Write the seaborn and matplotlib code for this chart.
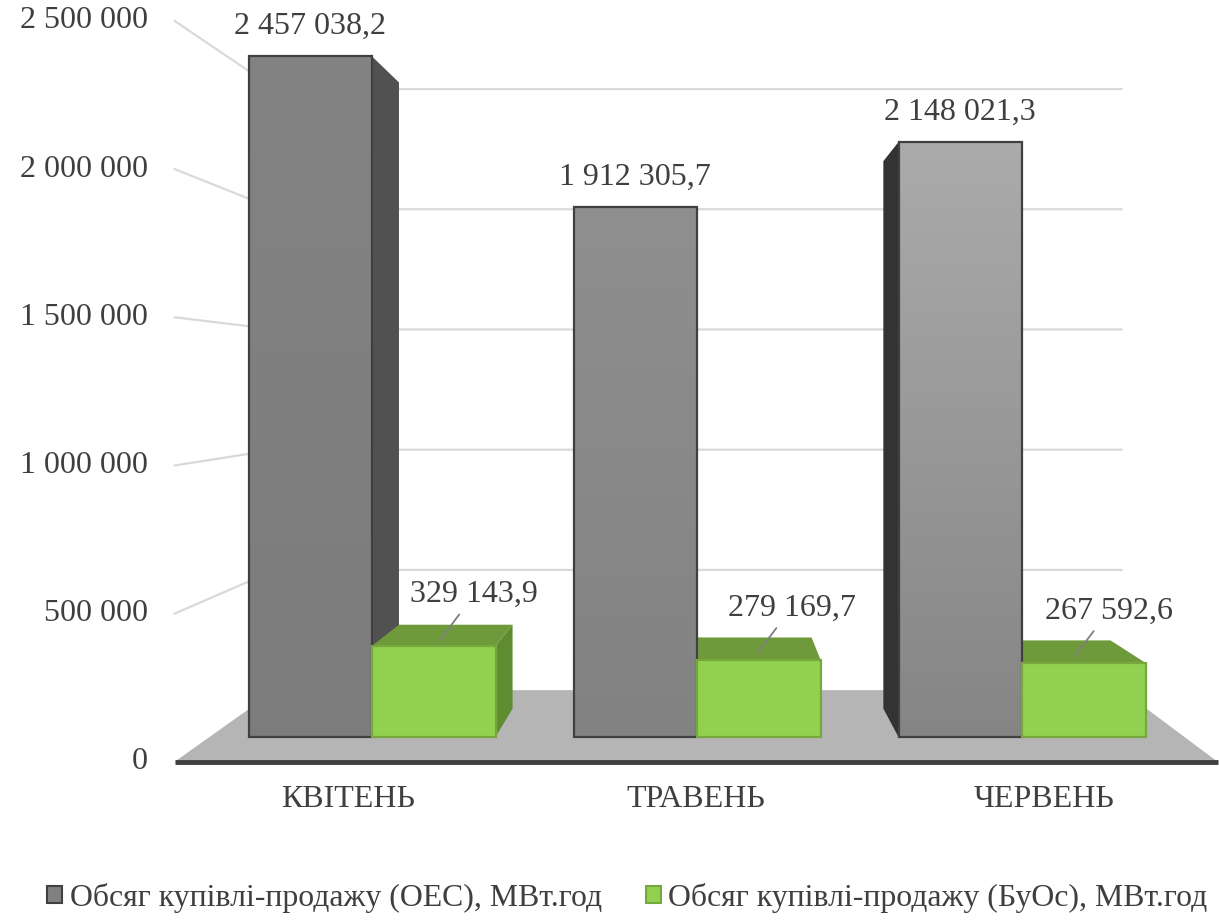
import numpy as np
import pandas as pd
import matplotlib
matplotlib.use("Agg")
import matplotlib.pyplot as plt
import seaborn as sns
from matplotlib.patches import Polygon, Patch
from matplotlib.transforms import IdentityTransform
from matplotlib.colors import LinearSegmentedColormap

# Data
months = ["КВІТЕНЬ", "ТРАВЕНЬ", "ЧЕРВЕНЬ"]
oes_volume = [2457038.2, 1912305.7, 2148021.3]
buos_volume = [329143.9, 279169.7, 267592.6]
series_names = ["Обсяг купівлі-продажу (ОЕС), МВт.год",
                "Обсяг купівлі-продажу (БуОс), МВт.год"]
y_ticks = [0, 500000, 1000000, 1500000, 2000000, 2500000]

df = pd.DataFrame({
    "month": months * 2,
    "series": [series_names[0]] * 3 + [series_names[1]] * 3,
    "volume": oes_volume + buos_volume,
})


def fmt(v, dec):
    return f"{v:,.{dec}f}".replace(",", " ").replace(".", ",")


# ---------------- LAYOUT ----------------
sns.set_theme(style="white")
plt.rcParams["font.family"] = ["Liberation Serif", "DejaVu Serif"]
TXT = "#3f3f3f"
W, H = 1219, 922
fig = plt.figure(figsize=(W / 100, H / 100), dpi=100)

# front plane of the fake 3D box (pixels)
ax_l, ax_r = 177, 1217
x0_px, dx_px = 372, 325          # category 0 position, px per category
y0_px, dy_px = 737, 277e-6       # value 0 (px from top), px per unit
ax = fig.add_axes([ax_l / W, 0, (ax_r - ax_l) / W, 1])

GRAY, GREEN = "#808080", "#92d050"
sns.barplot(data=df, x="month", y="volume", hue="series",
            palette=[GRAY, GREEN], width=0.76, errorbar=None,
            saturation=1, ax=ax)
ax.get_legend().remove()
ax.set_xlim((ax_l - x0_px) / dx_px, (ax_r - x0_px) / dx_px)
ax.set_ylim(-(H - y0_px) / dy_px, y0_px / dy_px)
ax.axis("off")

# perspective: depth k moves a point toward the vanishing point
VP = np.array([709.0, H - 382.0])
K_FRONT, K_BACK, K_BAR = -0.07, 0.132, 0.08
ID = IdentityTransform()


def proj(x, v, k):
    p = ax.transData.transform((x, v))
    return p + k * (VP - p)


def face(pts, color, z, ec="none", lw=0):
    ax.add_patch(Polygon(pts, closed=True, facecolor=color, edgecolor=ec,
                         linewidth=lw, transform=ID, zorder=z, clip_on=False))


x_lo, x_hi = -0.5, len(months) - 0.5

# floor
face([proj(x_lo, 0, K_FRONT), proj(x_hi, 0, K_FRONT),
      proj(x_hi, 0, K_BACK), proj(x_lo, 0, K_BACK)], "#b5b5b5", 0.5)
a, b = proj(x_lo, 0, K_FRONT), proj(x_hi, 0, K_FRONT)
ax.plot([a[0], b[0]], [a[1], b[1]], color="#404040", lw=3.5,
        transform=ID, zorder=1, clip_on=False, solid_capstyle="butt")

# gridlines on back and side walls + value labels
for v in y_ticks:
    if v > 0:
        p1, p2 = proj(x_lo, v, K_BACK), proj(x_hi, v, K_BACK)
        p0 = proj(x_lo, v, K_FRONT)
        ax.plot([p0[0], p1[0], p2[0]], [p0[1], p1[1], p2[1]], color="#d9d9d9",
                lw=1.6, transform=ID, zorder=0.4, clip_on=False)
    p0 = proj(x_lo, v, K_FRONT)
    ax.text(p0[0] - 27, p0[1], fmt(v, 0), transform=ID, ha="right",
            va="center", fontsize=23, color=TXT)

# category labels on the floor front edge
for i, m in enumerate(months):
    p = proj(i, 0, K_FRONT)
    ax.text(p[0], p[1] - 38, m, transform=ID, ha="center", va="center",
            fontsize=23, color=TXT)

# ---------------- BARS ----------------
gray_bars, green_bars = ax.containers[0], ax.containers[1]
grad_top = ["#838383", "#8f8f8f", "#ababab"]
grad_bot = ["#7c7c7c", "#828282", "#858585"]
styles = [
    dict(side_r="#515151", side_l="#333333", top="#6a6a6a", ec="#404040"),
    dict(side_r="#5f8c30", side_l="#5f8c30", top="#6f9a3b", ec="#76a83e"),
]

for s, bars in enumerate([gray_bars, green_bars]):
    st = styles[s]
    for i, r in enumerate(bars.patches):
        x0, w, v = r.get_x(), r.get_width(), r.get_height()
        x1 = x0 + w
        f0, f1 = proj(x0, v, 0), proj(x1, v, 0)
        if f1[0] < VP[0]:
            face([proj(x1, 0, 0), f1, proj(x1, v, K_BAR), proj(x1, 0, K_BAR)],
                 st["side_r"], 2)
        if f0[0] > VP[0]:
            face([proj(x0, 0, 0), f0, proj(x0, v, K_BAR), proj(x0, 0, K_BAR)],
                 st["side_l"], 2)
        if f0[1] < VP[1]:
            face([f0, f1, proj(x1, v, K_BAR), proj(x0, v, K_BAR)], st["top"], 2.5)

        r.set_edgecolor(st["ec"])
        r.set_linewidth(1.6)
        r.set_zorder(3.2)
        if s == 0:
            cmap = LinearSegmentedColormap.from_list("g", [grad_bot[i], grad_top[i]])
            im = ax.imshow(np.linspace(0, 1, 256).reshape(-1, 1), cmap=cmap,
                           extent=[x0, x1, 0, v], origin="lower",
                           aspect="auto", zorder=3)
            im.set_clip_path(r)
            r.set_facecolor("none")
            p = proj(x0 + w / 2, v, 0)
            ax.text(p[0], p[1] + 30, fmt(v, 1), transform=ID, ha="center",
                    va="center", fontsize=23, color=TXT)
        else:
            p = proj(x0 + w / 2, v, K_BAR * 0.3)
            ax.annotate(fmt(v, 1), xy=p, xycoords=ID,
                        xytext=(p[0] + 34, p[1] + 45), textcoords=ID,
                        ha="center", va="center", fontsize=23, color=TXT,
                        arrowprops=dict(arrowstyle="-", color="#7f7f7f",
                                        lw=1.3, shrinkA=2, shrinkB=0),
                        zorder=4)

ax.set_xlim((ax_l - x0_px) / dx_px, (ax_r - x0_px) / dx_px)
ax.set_ylim(-(H - y0_px) / dy_px, y0_px / dy_px)

# ---------------- LEGEND ----------------
handles = [Patch(facecolor=GRAY, edgecolor="#404040", linewidth=1.5),
           Patch(facecolor=GREEN, edgecolor="#76a83e", linewidth=1.5)]
fig.legend(handles, series_names, loc="center",
           bbox_to_anchor=(0.5 + 18 / W, 1 - 898 / H), ncol=2, frameon=False,
           fontsize=22.9, handlelength=0.45, handleheight=0.45,
           handletextpad=0.25, columnspacing=1.4, labelcolor=TXT,
           borderpad=0.1, borderaxespad=0)

plt.savefig("out.png", dpi=100)
plt.close()
